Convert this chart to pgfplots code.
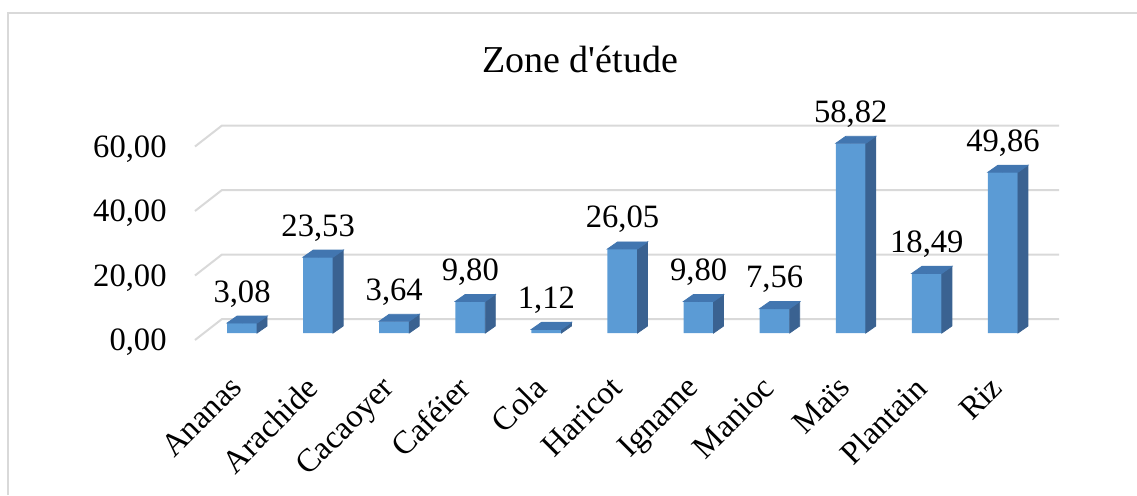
\documentclass[border=0pt]{standalone}
\usepackage{pgfplots}
\usepackage{pgfplotstable}
\pgfplotsset{compat=1.18}
\usepackage{fontspec}
\setmainfont{Liberation Serif}
\newfontfamily\plainserif{Liberation Serif}

\definecolor{barFront}{RGB}{91,155,213}
\definecolor{barSide}{RGB}{58,98,145}
\definecolor{barTop}{RGB}{66,118,176}
\definecolor{gridGray}{RGB}{217,217,217}

% values per crop
\pgfplotstableread{
x y
0 3.08
1 23.53
2 3.64
3 9.80
4 1.12
5 26.05
6 9.80
7 7.56
8 58.82
9 18.49
10 49.86
}\cultures

\begin{document}
\begin{tikzpicture}
  % 1px = 0.5pt, picture is 1137x495 px
  \path[use as bounding box] (0,0) rectangle (568.5pt,247.5pt);
  \draw[gridGray, line width=1.3pt] (4pt,0) -- (4pt,241pt) -- (568.5pt,241pt);
  \node[anchor=base, font=\plainserif\fontsize{19}{23}\selectfont] at (290pt,211.5pt) {Zone d'étude};

  \begin{axis}[
      at={(102pt,81pt)}, anchor=south west,
      scale only axis,
      width=418.5pt, height=96.75pt,
      xmin=-0.5, xmax=10.5,
      ymin=0, ymax=60,
      axis line style={draw=none},
      clip=false,
      xtick={0,...,10},
      xticklabels={Ananas,Arachide,Cacaoyer,Caféier,Cola,Haricot,Igname,Manioc,Maïs,Plantain,Riz},
      ytick={0,20,40,60},
      tick style={draw=none},
      ticklabel style={font=\fontsize{16.3}{19}\selectfont},
      xticklabel style={xshift=-7pt, yshift=-20.5pt, rotate=45, anchor=north east, inner sep=0pt},
      yticklabel style={xshift=-18.5pt, yshift=-8.75pt, anchor=base east, inner sep=0pt},
      /pgf/number format/.cd, fixed, fixed zerofill, precision=2, use comma, assume math mode=true,
    ]

    % 3D grid: back wall lines and the floor edge
    \pgfplotsinvokeforeach{0,20,40,60}{
      \draw[gridGray, line width=1pt]
        ([shift={(-4.5pt,-3.5pt)}]axis cs:-0.5,#1) --
        ([shift={(9pt,7pt)}]axis cs:-0.5,#1) --
        ([shift={(9pt,7pt)}]axis cs:10.5,#1);
    }

    % front faces
    \addplot[
      ybar, bar width=15pt, fill=barFront, draw=none,
      nodes near coords,
      every node near coord/.append style={
        font=\fontsize{16.3}{19}\selectfont, anchor=base, yshift=10.5pt,
        /pgf/number format/.cd, fixed, fixed zerofill, precision=2, use comma, assume math mode=true},
    ] table[x=x, y=y] {\cultures};

    % side and top faces of the boxes
    \addplot[
      scatter, only marks, mark=*, mark size=0pt,
      mark options={draw=none, fill=none},
      visualization depends on={\thisrow{y} \as \rawv},
      scatter/@pre marker code/.code={
        \fill[barSide] (7.5pt,0pt) -- (7.5pt,{-\rawv*1.6125pt}) --
          (12.5pt,{-\rawv*1.6125pt+3.5pt}) -- (12.5pt,3.5pt) -- cycle;
        \fill[barTop] (-7.5pt,0pt) -- (7.5pt,0pt) -- (12.5pt,3.5pt) -- (-2.5pt,3.5pt) -- cycle;
      },
      scatter/@post marker code/.code={},
    ] table[x=x, y=y] {\cultures};
  \end{axis}
\end{tikzpicture}
\end{document}
